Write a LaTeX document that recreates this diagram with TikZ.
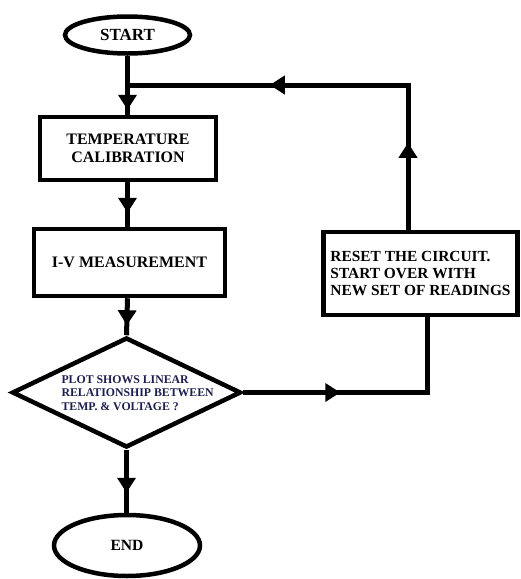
\documentclass[tikz,border=0pt]{standalone}
\usepackage{fontspec}
\setmainfont{Liberation Serif}
\usetikzlibrary{arrows.meta, shapes.geometric, decorations.markings}
\definecolor{qink}{RGB}{30,30,80}
\tikzset{flowhead/.tip={Triangle[width=18pt,length=15pt]}}

\begin{document}
\begin{tikzpicture}[x=1pt,y=-1pt,
  term/.style={ellipse,draw,line width=4.5pt},
  stepbox/.style={rectangle,draw,line width=4.5pt,align=center,
    font=\fontsize{16}{18}\selectfont\bfseries},
  link/.style={draw,line width=5pt},
  headat/.style={postaction={decorate},decoration={markings,
    mark=at position #1 with {\arrow{flowhead}}}}]
  \useasboundingbox (0,0) rectangle (521,579);
  % terminals
  \node[term,minimum width=125pt,minimum height=37pt,
    font=\fontsize{17}{20}\selectfont\bfseries] (start) at (127.5,35) {START};
  \node[term,minimum width=146pt,minimum height=61pt,
    font=\fontsize{15.6}{18}\selectfont\bfseries] (done) at (127,545.5) {END};
  % process boxes
  \node[stepbox,minimum width=176pt,minimum height=63pt] (calib) at (128,148.5)
    {TEMPERATURE\\CALIBRATION};
  \node[stepbox,minimum width=191pt,minimum height=67pt] (ivm) at (129.5,262.5)
    {I-V MEASUREMENT};
  \node[stepbox,align=left,minimum width=194pt,minimum height=83pt,
    font=\fontsize{15.4}{17}\selectfont\bfseries] (reset) at (420.5,273.5)
    {RESET THE CIRCUIT.\\START OVER WITH\\NEW SET OF READINGS};
  % decision
  \node[diamond,draw,line width=4.5pt,minimum width=229pt,minimum height=110pt]
    (check) at (126.5,392.5) {};
  \node[anchor=west,align=left,text=qink,
    font=\fontsize{11.8}{13.5}\selectfont\bfseries] (checktext) at (58,393)
    {PLOT SHOWS LINEAR\\RELATIONSHIP BETWEEN\\TEMP. \& VOLTAGE ?};
  % main line
  \draw[link,headat=-5pt] (start.south) -- (start.south |- calib.north);
  \draw[link,headat=-14pt] (start.south |- calib.south) -- (start.south |- ivm.north);
  \draw[link,headat=-10pt] (start.south |- ivm.south) -- (check.north);
  \draw[link,headat=-20pt] (check.south) -- (check.south |- done.north);
  % no -> reset, then back to the top
  \coordinate (join) at (127.5,85);
  \draw[link,headat=97pt] (check.east) -| ([xshift=6.5pt]reset.south);
  \draw[link,postaction={decorate},decoration={markings,
      mark=at position 87pt with {\arrow{flowhead}},
      mark=at position 283pt with {\arrow{flowhead}}}]
    ([xshift=-12.5pt]reset.north) |- (join);
\end{tikzpicture}
\end{document}
